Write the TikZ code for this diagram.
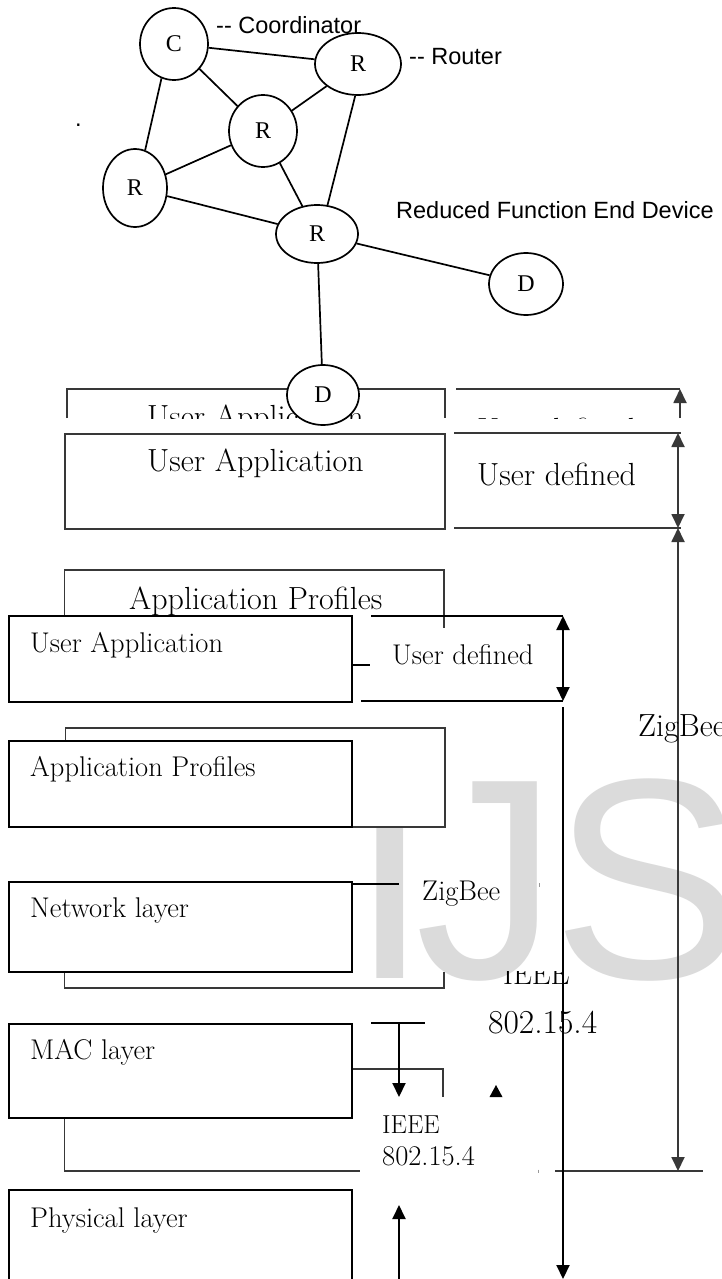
\documentclass[tikz,border=0pt]{standalone}
\usepackage{fontspec}
\newfontfamily\sansf{Liberation Sans}
\newfontfamily\serf{Liberation Serif}
\usetikzlibrary{shapes.geometric,arrows.meta}
\begin{document}
\begin{tikzpicture}[x=1pt,y=-1pt,
  dev/.style={ellipse,draw,fill=white,line width=1.7pt,inner sep=0pt,font=\serf\fontsize{24}{26}\selectfont},
  edge/.style={line width=1.7pt},
  netlab/.style={anchor=base west,inner sep=0pt,font=\sansf\fontsize{23.5}{26}\selectfont},
  ulab/.style={anchor=base west,inner sep=0pt,font=\fontsize{32}{35}\selectfont},
  llab/.style={anchor=base west,inner sep=0pt,font=\fontsize{28.5}{32}\selectfont},
  ul/.style={line width=1.8pt,draw=black!78},
  ll/.style={line width=2pt,draw=black},
  lbox/.style={rectangle,draw,fill=white,line width=2pt,inner sep=0pt,anchor=north west},
  ubox/.style={rectangle,draw=black!78,fill=white,line width=1.8pt,inner sep=0pt,anchor=north west},
  tipe/.style={-{Triangle[length=14pt,width=13pt]}},
  tipb/.style={{Triangle[length=14pt,width=13pt]}-{Triangle[length=14pt,width=13pt]}},
  wm/.style={anchor=base west,inner sep=0pt,text=black!14,font=\sansf\fontsize{286}{290}\selectfont}
]
\clip (0,0) rectangle (722,1279);
\fill[white] (0,0) rectangle (722,1279);

% watermark
\node[wm] (wmark) at (350,978) {I\kern-14pt J\kern-6pt S};

% ---------------- network ----------------
\node[dev,minimum width=68pt,minimum height=72pt] (C) at (174,44) {C};
\node[dev,minimum width=86pt,minimum height=62pt] (Rtr) at (358,64) {R};
\node[dev,minimum width=68pt,minimum height=72pt] (Rmid) at (263,131) {R};
\node[dev,minimum width=64pt,minimum height=78pt] (Rleft) at (135,188) {R};
\node[dev,minimum width=82pt,minimum height=58pt] (Rbot) at (317,234) {R};
\node[dev,minimum width=74pt,minimum height=62pt] (Dr) at (526,284) {D};

\draw[edge] (C) -- (Rtr);
\draw[edge] (C) -- (Rmid);
\draw[edge] (C.-110) -- (Rleft.75);
\draw[edge] (Rmid) -- (Rtr);
\draw[edge] (Rleft) -- (Rmid);
\draw[edge] (Rmid) -- (Rbot);
\draw[edge] (Rtr.-95) -- (Rbot.70);
\draw[edge] (Rleft) -- (Rbot);
\draw[edge] (Rbot) -- (Dr);

\node[netlab] (lcoord) at (216,34) {-- Coordinator};
\node[netlab] (lrouter) at (409,65) {-- Router};
\node[netlab] (lrfd) at (396,218) {Reduced Function End Device};
\node[netlab] (ldot) at (75,127) {.};

% ---------------- upper stack (behind) ----------------
\begin{scope}
  \clip (0,380) rectangle (722,418);
  \node[ulab] (ua1) at (147,427) {User Application};
  \node[ulab] (ud1) at (477,440.5) {User defined};
\end{scope}
\draw[ul] (67,418) -- (67,389) -- (445,389) -- (445,418);
\coordinate (r1a) at (456,389);
\coordinate (r1b) at (680,389);
\coordinate (r1c) at (680,418);
\draw[ul] (r1a) -- (r1b);
\draw[ul,tipe] (r1c) -- (r1b);

\node[ubox,minimum width=380pt,minimum height=95pt] (ub2) at (64,433) {};
\node[ulab] (ua2) at (147,471) {User Application};
\coordinate (r2a) at (454,433);
\coordinate (r2b) at (681,433);
\coordinate (r2c) at (454,528);
\coordinate (r2d) at (681,528);
\draw[ul] (r2a) -- (r2b);
\draw[ul] (r2c) -- (r2d);
\node[ulab] (ud2) at (477,485) {User defined};
\coordinate (ar1) at (678,433);
\coordinate (ar2) at (678,528);
\coordinate (ar3) at (678,1171);
\draw[ul,tipb] (ar1) -- (ar2);
\draw[ul,tipb] (ar2) -- (ar3);

\draw[ul] (64.5,616) -- (64.5,570) -- (444,570) -- (444,628);
\node[ulab] (ap1) at (129,609) {Application Profiles};

\node[ubox,minimum width=379.5pt,minimum height=99pt] (ub4) at (64.5,727) {};
\node[ulab] (zb1) at (638,736) {ZigBee};

\draw[ul] (64.5,971) -- (64.5,988) -- (444,988) -- (444,972);
\begin{scope}
  \clip (0,971) rectangle (722,1000);
  \node[ulab,font=\fontsize{30}{33}\selectfont] (ie1) at (503,984) {IEEE};
\end{scope}
\node[ulab,font=\fontsize{33.5}{36}\selectfont] (n1) at (488,1033) {802.15.4};

\draw[ul] (351,1069) -- (443,1069) -- (443,1097);
\fill[black] (489.5,1097) -- (502.5,1097) -- (496,1085) -- cycle;
\draw[ul] (64.5,1117) -- (64.5,1171) -- (360,1171);
\coordinate (hz1) at (555,1171);
\coordinate (hz2) at (703,1171);
\draw[ul] (hz1) -- (hz2);
\draw[black!40,line width=0.8pt] (538.5,1169.5) -- (538.5,1172.5);
\draw[black!40,line width=0.8pt] (539,883) -- (539,887);

% ---------------- network over box ----------------
\node[dev,minimum width=72pt,minimum height=60pt] (Db) at (323,395) {D};
\draw[edge] (Rbot) -- (Db);

% ---------------- lower stack ----------------
\node[lbox,minimum width=343pt,minimum height=86pt] (bua) at (8,615) {};
\node[llab] (tua) at (30,652) {User Application};
\coordinate (l1a) at (371,616);
\coordinate (l1b) at (563,616);
\coordinate (l1c) at (361,701);
\coordinate (l1d) at (563,701);
\draw[ll] (l1a) -- (l1b);
\draw[ll] (l1c) -- (l1d);
\draw[ll] (bua.east |- 0,665) -- (370,665);
\node[llab] (tud) at (392,664) {User defined};
\draw[ll,tipb] (l1b) -- (l1d);
\coordinate (la1) at (563,707);
\coordinate (la2) at (563,1279);
\draw[ll,tipe] (la1) -- (la2);

\node[lbox,minimum width=343pt,minimum height=86pt] (bap) at (8,740) {};
\node[llab] (tap) at (30,776) {Application Profiles};

\node[lbox,minimum width=343pt,minimum height=90pt] (bnw) at (8,881) {};
\node[llab] (tnw) at (30,917) {Network layer};
\coordinate (zl) at (399,884);
\draw[ll] (bnw.east |- zl) -- (zl);
\node[llab] (tzb) at (422,900) {ZigBee};

\node[lbox,minimum width=343pt,minimum height=94pt] (bmac) at (8,1023) {};
\node[llab] (tmac) at (30,1059) {MAC layer};
\coordinate (t1) at (371,1023);
\coordinate (t2) at (425,1023);
\coordinate (t3) at (399,1023);
\coordinate (t4) at (399,1097);
\draw[ll] (t1) -- (t2);
\draw[ll,tipe] (t3) -- (t4);
\node[llab,font=\fontsize{26}{30}\selectfont] (tie) at (382,1133) {IEEE};
\node[llab] (t802) at (382,1165) {802.15.4};

\node[lbox,minimum width=343pt,minimum height=120pt] (bph) at (8,1189) {};
\node[llab] (tph) at (30,1227) {Physical layer};
\coordinate (p1) at (399,1279);
\coordinate (p2) at (399,1205);
\draw[ll,tipe] (p1) -- (p2);
\end{tikzpicture}
\end{document}
